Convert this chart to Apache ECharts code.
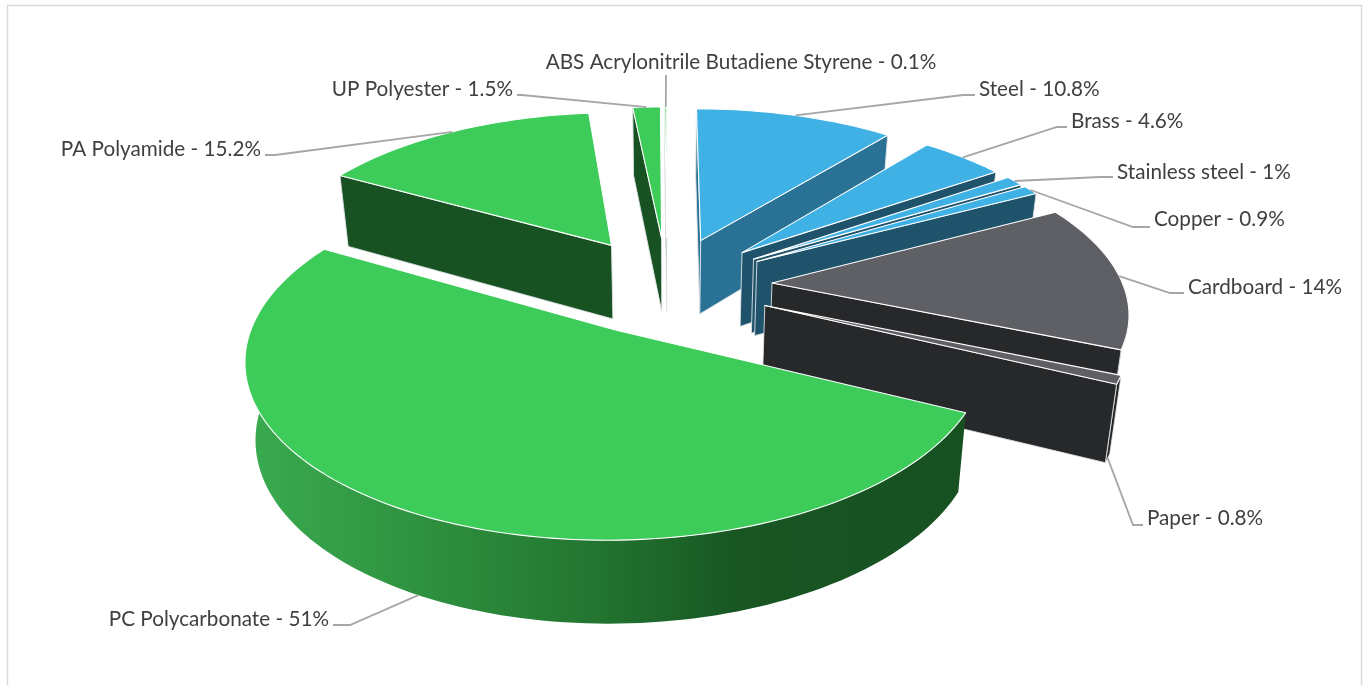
<!DOCTYPE html>
<html><head><meta charset="utf-8">
<style>html,body{margin:0;padding:0;background:#fff}#c{width:1369px;height:685px}</style>
<script src="https://cdn.jsdelivr.net/npm/echarts@6/dist/echarts.min.js"></script>
</head><body><div id="c"></div>
<script>
const categories = ['Steel','Brass','Stainless steel','Copper','Cardboard','Paper','PC Polycarbonate','PA Polyamide','UP Polyester','ABS Acrylonitrile Butadiene Styrene'];
const values = [10.8,4.6,1,0.9,14,0.8,51,15.2,1.5,0.1];

const topColors = ['#3FB1E5','#3FB1E5','#3FB1E5','#3FB1E5','#5F6066','#5F6066','#3DCC5A','#3DCC5A','#3DCC5A','#3DCC5A'];
const wallColors = ['#2A7295','#1F536C','#1F536C','#1F536C','#27282A','#27282A','#185223','#185223','#185223','#185223'];
// label layout: text x, text y, align, elbow x, elbow y, end x, anchor on bottom of the wall?
const labelLayout = [
 [979,89,'left',963,95,975,0],[1071,121,'left',1057,127,1067,0],[1117,172,'left',1100,177,1113,0],
 [1154,219,'left',1133,227,1150,0],[1188,287,'left',1170,293,1184,0],[1147,518,'left',1133,525,1143,1],
 [329,619,'right',350,625,333,1],[261,149,'right',275,155,265,0],[513,89,'right',522,95,517,0],[741,62,'center',666,75,666,0]
];
const cam = {cx:667,cy:285,f:351,q:0.466,k:0.149,h:75,k2:0.08,conv:0.025,explode:0.3};
const total = values.reduce((a,b)=>a+b,0);
const starts = []; let acc = 0;
values.forEach(v=>{starts.push(acc/total*360); acc+=v;});
const rad = d=>d*Math.PI/180;
function proj(u,v,z){
  const den=1+cam.k*v;
  let x=cam.cx+cam.f*u/den;
  const y=cam.cy-cam.f*cam.q*v/den+z*cam.h/(1+cam.k2*v);
  x=cam.cx+(x-cam.cx)*(1-cam.conv*z);
  return [x,y];
}
const midAngles = values.map((v,i)=>starts[i]+v/total*180);
const order = values.map((_,i)=>i).sort((a,b)=>Math.cos(rad(midAngles[b]))-Math.cos(rad(midAngles[a])));
const pcGradient = new echarts.graphic.LinearGradient(0,0,1,0,[
 {offset:0,color:'#3AAB50'},{offset:0.25,color:'#2E913F'},{offset:0.5,color:'#22732F'},{offset:0.68,color:'#185623'},{offset:1,color:'#175122'}]);

function renderItem(params,api){
  const i=params.dataIndex, val=api.value(0);
  const a0=starts[i], a1=a0+val/total*360, mid=(a0+a1)/2;
  const ax=cam.explode*Math.sin(rad(mid)), av=cam.explode*Math.cos(rad(mid));
  const rim=(a,z)=>proj(ax+Math.sin(rad(a)),av+Math.cos(rad(a)),z);
  const arc=(s,e,z)=>{const n=Math.max(2,Math.ceil((e-s)/1.5));const p=[];for(let t=0;t<=n;t++)p.push(rim(s+(e-s)*t/n,z));return p;};
  const rank=order.indexOf(i)*10+1;
  const kids=[];
  const apex0=proj(ax,av,0), apex1=proj(ax,av,1);
  // outer wall: only the part turned toward the viewer
  const rs=Math.max(a0,75), re=Math.min(a1,285);
  if(re>rs){
    const pts=arc(rs,re,0).concat(arc(rs,re,1).reverse());
    kids.push({type:'polygon',z2:rank,shape:{points:pts},silent:true,
      style:{fill:categories[i].startsWith('PC')?pcGradient:wallColors[i],stroke:categories[i].startsWith('PC')?null:'#e8e8e8',lineWidth:categories[i].startsWith('PC')?0:0.8}});
  }
  // radial walls that face the viewer
  const face=(a,col)=>kids.push({type:'polygon',z2:rank+1,silent:true,shape:{points:[apex0,rim(a,0),rim(a,1),apex1]},style:{fill:col,stroke:'#dfe3e6',lineWidth:0.9}});
  if(Math.sin(rad(a0))<=0.001) face(a0,wallColors[i]);
  if(Math.sin(rad(a1))>0.001) face(a1,wallColors[i]);
  // top
  kids.push({type:'polygon',z2:rank+2,silent:true,shape:{points:[apex0].concat(arc(a0,a1,0))},
    style:{fill:topColors[i],stroke:'#ffffff',lineWidth:1.1,lineJoin:'round'}});
  // leader and label
  const L=labelLayout[i];
  const end=rim(mid,L[6]);
  kids.push({type:'polyline',z2:500,silent:true,shape:{points:[end,[L[3],L[4]],[L[5],L[4]]]},style:{fill:null,stroke:'#a6a6a6',lineWidth:1.8}});
  kids.push({type:'text',z2:501,silent:true,style:{x:L[0],y:L[1],text:categories[i]+' - '+values[i]+'%',align:L[2],verticalAlign:'middle',
    font:'20.7px Lato, "Noto Sans", sans-serif',fill:'#404040'}});
  return {type:'group',children:kids};
}
const chart=echarts.init(document.getElementById('c'),null,{renderer:'canvas'});
chart.setOption({
  backgroundColor:'#fff',animation:false,
  graphic:[{type:'rect',z:-1,silent:true,shape:{x:7.5,y:5.5,width:1354,height:720},style:{fill:'#fff',stroke:'#d9d9d9',lineWidth:1.5}}],
  series:[{type:'custom',coordinateSystem:'none',renderItem,silent:true,clip:false,data:values.map(v=>[v])}]
});
</script></body></html>
